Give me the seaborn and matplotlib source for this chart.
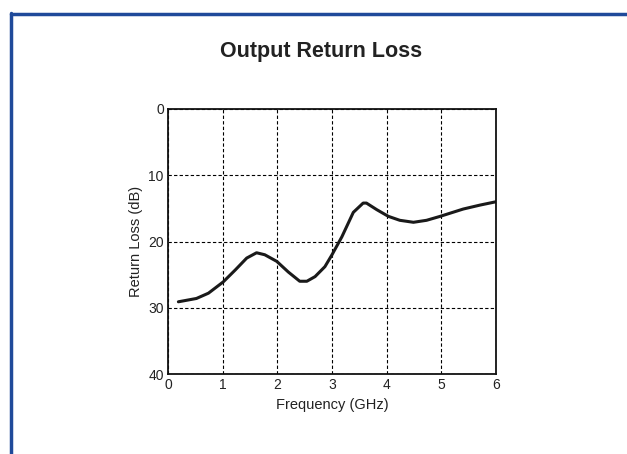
import matplotlib
matplotlib.use("Agg")
import matplotlib.pyplot as plt
import matplotlib.lines as mlines
import pandas as pd
import seaborn as sns

# data
freq_ghz = [0.19, 0.52, 0.74, 1.01, 1.23, 1.44, 1.62, 1.77, 1.99, 2.2, 2.41,
            2.54, 2.69, 2.87, 3.0, 3.18, 3.39, 3.57, 3.63, 3.82, 4.03, 4.24,
            4.49, 4.73, 4.98, 5.4, 5.71, 6.0]
return_loss_db = [29.1, 28.6, 27.8, 26.1, 24.3, 22.5, 21.7, 22.0, 23.0, 24.6,
                  26.0, 26.0, 25.3, 23.8, 22.0, 19.3, 15.6, 14.2, 14.2, 15.2,
                  16.2, 16.8, 17.1, 16.8, 16.2, 15.1, 14.5, 14.0]
x_ticks = [0, 1, 2, 3, 4, 5, 6]
y_ticks = [0, 10, 20, 30, 40]

df = pd.DataFrame({"freq": freq_ghz, "rl": return_loss_db})

sns.set_theme(style="white")
plt.rcParams["font.family"] = ["Liberation Sans", "DejaVu Sans"]

fig = plt.figure(figsize=(6.27, 4.54), dpi=100)
ax = fig.add_axes([168 / 627, 1 - 374 / 454, 328 / 627, 265 / 454])

sns.lineplot(data=df, x="freq", y="rl", ax=ax, color="#1a1a1a", linewidth=2.2,
             solid_joinstyle="round", solid_capstyle="round")

ax.set_xlim(0, 6)
ax.set_ylim(40, 0)
ax.set_xticks(x_ticks)
ax.set_yticks(y_ticks)
ax.tick_params(length=0, labelsize=10, colors="#222222", pad=3)
ax.grid(True, color="black", linestyle=(0, (3, 2)), linewidth=0.8)
for s in ax.spines.values():
    s.set_color("#111111")
    s.set_linewidth(1.3)
ax.set_xlabel("Frequency (GHz)", fontsize=10.5, color="#222222", labelpad=4)
ax.set_ylabel("Return Loss (dB)", fontsize=10.5, color="#222222", labelpad=4)

fig.text(321 / 627, 1 - 52 / 454, "Output Return Loss", ha="center",
         va="center", fontsize=15.5, fontweight="bold", color="#222222")

# blue frame on top and left
blue = "#1f4a9a"
fig.add_artist(mlines.Line2D([10.5 / 627, 1], [1 - 13.5 / 454] * 2,
                             color=blue, linewidth=2.5, transform=fig.transFigure))
fig.add_artist(mlines.Line2D([10.5 / 627] * 2, [0, 1 - 12.5 / 454],
                             color=blue, linewidth=2.5, transform=fig.transFigure))

fig.savefig("out.png", dpi=100)
